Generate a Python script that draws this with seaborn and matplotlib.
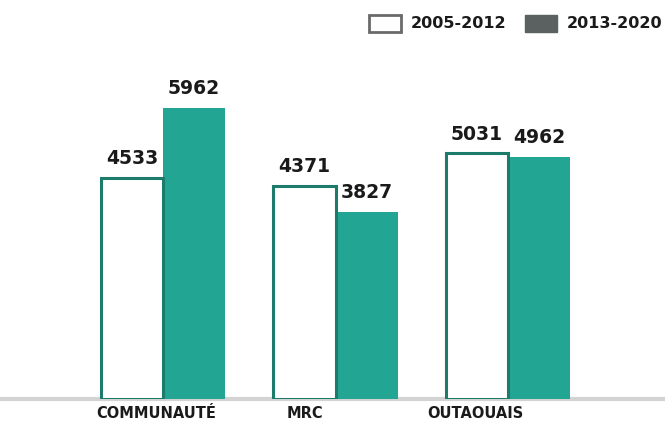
import matplotlib
matplotlib.use("Agg")
import matplotlib.pyplot as plt
from matplotlib.patches import Patch
import seaborn as sns
import pandas as pd

# Data
regions = ["COMMUNAUTÉ", "MRC", "OUTAOUAIS"]
periods = ["2005-2012", "2013-2020"]
values_2005_2012 = [4533, 4371, 5031]
values_2013_2020 = [5962, 3827, 4962]
label_positions = [-0.04, 0.82, 1.81]

df = pd.DataFrame({
    "region": regions * 2,
    "period": [periods[0]] * 3 + [periods[1]] * 3,
    "value": values_2005_2012 + values_2013_2020,
})

TEAL = "#23a594"
TEAL_DARK = "#1d7b6b"
TEXT = "#1a1a1a"

sns.set_theme(style="white")
plt.rcParams["font.family"] = ["DejaVu Sans"]

fig = plt.figure(figsize=(6.65, 4.23), dpi=100)
ax = fig.add_axes([0.0, 24 / 423, 1.0, 359 / 423])

sns.barplot(data=df, x="region", y="value", hue="period", order=regions,
            hue_order=periods, palette=["white", TEAL], width=0.72,
            saturation=1, ax=ax, legend=False)

first, second = ax.containers[0], ax.containers[1]
for bar in first:
    bar.set_facecolor("white")
    bar.set_edgecolor(TEAL_DARK)
    bar.set_linewidth(2.2)
    bar.set_zorder(3)
for bar in second:
    bar.set_facecolor(TEAL)
    bar.set_edgecolor("none")
    bar.set_zorder(2)

for cont in (first, second):
    ax.bar_label(cont, fmt="%d", padding=7, fontsize=13.5, fontweight="bold",
                 color=TEXT)

ax.set_xlim(-0.945, 2.91)
ax.set_ylim(0, 7355)
ax.set_xticks(label_positions)
ax.set_xticklabels(regions, fontsize=10.5, fontweight="bold", color=TEXT)
ax.tick_params(axis="x", length=0, pad=5)
ax.set_yticks([])
ax.set_xlabel("")
ax.set_ylabel("")
for side in ("top", "left", "right"):
    ax.spines[side].set_visible(False)
ax.spines["bottom"].set_color("#d3d3d3")
ax.spines["bottom"].set_linewidth(3)
ax.spines["bottom"].set_zorder(1)

handles = [
    Patch(facecolor="white", edgecolor="#6a6a6a", linewidth=2, label=periods[0]),
    Patch(facecolor="#5b6060", edgecolor="#5b6060", label=periods[1]),
]
fig.legend(handles=handles, loc="upper right", bbox_to_anchor=(1.012, 0.99),
           ncol=2, frameon=False, prop={"weight": "bold", "size": 11.5},
           handlelength=2.0, handleheight=1.25, handletextpad=0.6,
           columnspacing=1.2, borderaxespad=0.25, labelcolor=TEXT)

fig.savefig("out.png", dpi=100)
